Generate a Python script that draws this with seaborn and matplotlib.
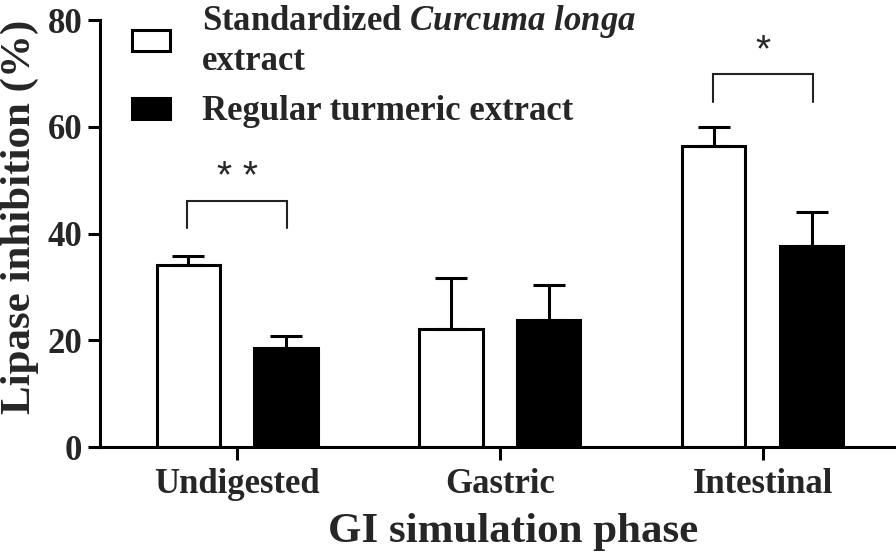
import numpy as np
import pandas as pd
import matplotlib
matplotlib.use('Agg')
import matplotlib.pyplot as plt
import seaborn as sns

# values
phases = ['Undigested', 'Gastric', 'Intestinal']
std_mean = [34.2, 22.2, 56.4]
std_sd = [1.6, 9.5, 3.6]
reg_mean = [18.6, 23.8, 37.6]
reg_sd = [2.2, 6.5, 6.5]
series = ['Standardized $\\mathit{Curcuma\\ longa}$\nextract', 'Regular turmeric extract']

# significance brackets: phase index, label, bracket top, leg bottom
sig_phase = [0, 2]
sig_label = ['* *', '*']
sig_top = [46.1, 69.9]
sig_bottom = [41.0, 64.7]

sns.set_style('ticks')
plt.rcParams['font.family'] = ['Liberation Serif', 'DejaVu Serif']
plt.rcParams['font.weight'] = 'bold'
plt.rcParams['axes.labelweight'] = 'bold'
plt.rcParams['mathtext.fontset'] = 'custom'
plt.rcParams['mathtext.rm'] = 'Liberation Serif'
plt.rcParams['mathtext.it'] = 'Liberation Serif:italic'

df = pd.DataFrame({
    'phase': phases * 2,
    'value': std_mean + reg_mean,
    'sd': std_sd + reg_sd,
    'series': [series[0]] * 3 + [series[1]] * 3,
})

fig, ax = plt.subplots(figsize=(8.96, 5.59), dpi=100)
fig.subplots_adjust(left=0.112, right=0.998, bottom=0.2, top=0.964)

sns.barplot(data=df, x='phase', y='value', hue='series', order=phases,
            hue_order=series, palette=['white', 'black'], edgecolor='black',
            linewidth=2.2, width=0.745, gap=0.355, errorbar=None, ax=ax,
            saturation=1)

# one-sided error bars at bar centres
for cont, (_, grp) in zip(ax.containers, df.groupby('series', sort=False)):
    xs = [p.get_x() + p.get_width() / 2 for p in cont.patches]
    ys = grp['value'].to_numpy()
    err = grp['sd'].to_numpy()
    ax.errorbar(xs, ys, yerr=[np.zeros_like(err), err], fmt='none',
                ecolor='black', elinewidth=2.2, capsize=11.5, capthick=2.2,
                zorder=1)

# significance brackets
off = 0.19
for i, lab, top, bot in zip(sig_phase, sig_label, sig_top, sig_bottom):
    ax.plot([i - off, i - off, i + off, i + off], [bot, top, top, bot],
            color='#222222', lw=1.5, solid_joinstyle='miter')
    ax.text(i, top + 4.3, lab, ha='center', va='center', fontsize=28,
            family='Liberation Sans', fontweight='normal')

ax.set_xlim(-0.52, 2.5)
ax.set_ylim(0, 80)
ax.set_yticks([0, 20, 40, 60, 80])
ax.tick_params(axis='both', length=9, width=2.2, labelsize=25, color='black')
ax.tick_params(axis='y', pad=4)
ax.tick_params(axis='x', pad=6)
for s in ['left', 'bottom']:
    ax.spines[s].set_linewidth(2.2)
    ax.spines[s].set_color('black')
sns.despine(ax=ax)

ax.set_xlabel('GI simulation phase', fontsize=31, fontweight='bold')
ax.set_ylabel('Lipase inhibition (%)', fontsize=31, fontweight='bold')
ax.xaxis.set_label_coords(0.52, -0.155)
ax.yaxis.set_label_coords(-0.077, 0.54)

ax.legend(loc='upper left', bbox_to_anchor=(0.04, 1.04), frameon=False,
          fontsize=25, handlelength=1.1, handleheight=0.55, handletextpad=0.9,
          labelspacing=0.5, borderaxespad=0, borderpad=0)

fig.savefig('out.png', dpi=100)
